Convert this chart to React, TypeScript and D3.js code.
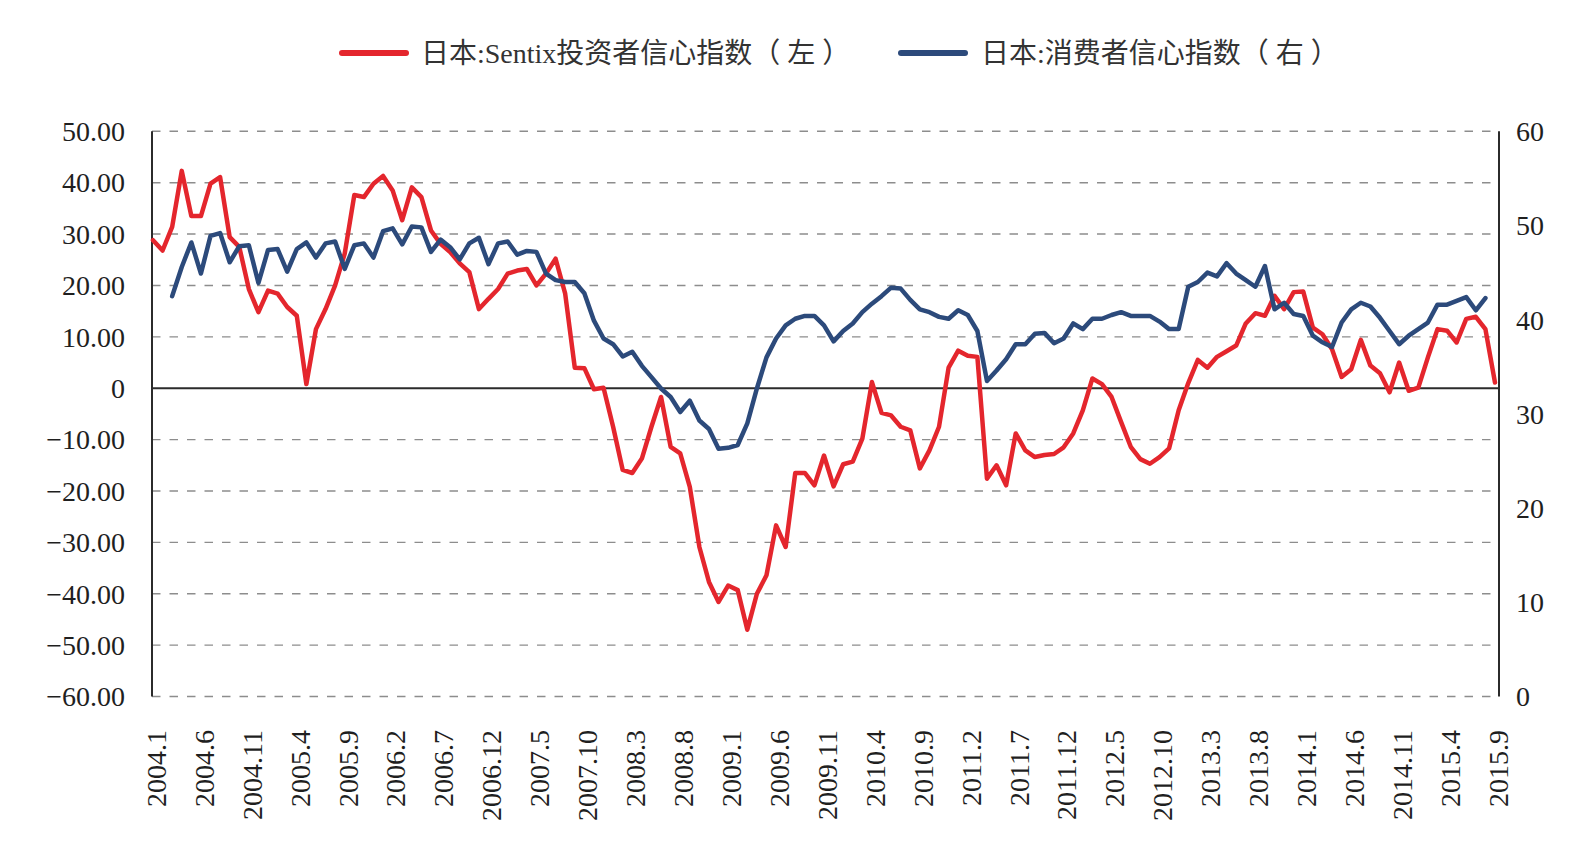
import React from "react";
import * as d3 from "d3";

// Monthly categories 2004.1 – 2015.9
const startYear = 2004;
const endYear = 2015;
const endMonth = 9;
const months: string[] = [];
for (let y = startYear; y <= endYear; y++) {
  for (let m = 1; m <= 12; m++) {
    if (y === endYear && m > endMonth) break;
    months.push(`${y}.${m}`);
  }
}

const tickLabels = [
  "2004.1", "2004.6", "2004.11", "2005.4", "2005.9", "2006.2", "2006.7", "2006.12",
  "2007.5", "2007.10", "2008.3", "2008.8", "2009.1", "2009.6", "2009.11", "2010.4",
  "2010.9", "2011.2", "2011.7", "2011.12", "2012.5", "2012.10", "2013.3", "2013.8",
  "2014.1", "2014.6", "2014.11", "2015.4", "2015.9",
];

// 日本:Sentix投资者信心指数 (left axis), from 2004.1
const sentixStart = "2004.1";
const sentix = [
  28.8, 26.8, 31.4, 42.3, 33.5, 33.5, 39.8, 41.1, 29.4, 27.5,
  19.3, 14.8, 19.0, 18.4, 15.8, 14.1, 0.8, 11.5, 15.4, 20.0,
  26.2, 37.6, 37.2, 39.8, 41.3, 38.5, 32.7, 39.1, 37.2, 30.7,
  28.1, 26.5, 24.3, 22.6, 15.4, 17.4, 19.3, 22.3, 22.9, 23.2,
  20.0, 22.3, 25.2, 18.4, 4.0, 3.9, -0.2, 0.1, -7.5, -15.9,
  -16.5, -13.7, -7.5, -1.7, -11.4, -12.7, -19.2, -30.9, -37.7, -41.6,
  -38.4, -39.3, -47.0, -40.0, -36.4, -26.7, -30.9, -16.5, -16.5, -18.9,
  -13.1, -19.1, -14.8, -14.3, -9.8, 1.2, -4.8, -5.3, -7.5, -8.2,
  -15.6, -12.1, -7.5, 4.0, 7.3, 6.3, 6.1, -17.6, -15.0, -18.9,
  -8.8, -12.1, -13.4, -13.0, -12.8, -11.5, -8.8, -4.3, 1.9, 0.8,
  -1.7, -6.6, -11.4, -13.8, -14.7, -13.4, -11.7, -4.3, 1.0, 5.5,
  4.0, 6.1, 7.2, 8.3, 12.6, 14.6, 14.1, 18.0, 15.4, 18.7,
  18.8, 11.8, 10.5, 7.6, 2.2, 3.7, 9.4, 4.4, 2.9, -0.8,
  5.0, -0.5, 0.1, 6.0, 11.5, 11.2, 8.9, 13.5, 13.9, 11.5,
  1.1,
];

// 日本:消费者信心指数 (right axis), from 2004.3
const consumerStart = "2004.3";
const consumer = [
  42.5, 45.6, 48.2, 44.9, 48.9, 49.2, 46.1, 47.8, 47.9, 43.9,
  47.4, 47.5, 45.1, 47.5, 48.2, 46.6, 48.1, 48.3, 45.4, 47.9,
  48.1, 46.6, 49.4, 49.7, 48.0, 49.9, 49.8, 47.2, 48.5, 47.7,
  46.4, 48.1, 48.7, 45.9, 48.1, 48.3, 46.9, 47.3, 47.2, 44.9,
  44.2, 44.0, 44.0, 42.8, 39.9, 38.0, 37.4, 36.1, 36.6, 35.1,
  33.9, 32.7, 31.8, 30.2, 31.4, 29.3, 28.4, 26.3, 26.4, 26.7,
  29.0, 32.7, 36.0, 38.0, 39.4, 40.1, 40.4, 40.4, 39.4, 37.7,
  38.8, 39.6, 40.8, 41.7, 42.5, 43.4, 43.3, 42.1, 41.1, 40.8,
  40.3, 40.1, 41.0, 40.5, 38.8, 33.5, 34.6, 35.8, 37.4, 37.4,
  38.5, 38.6, 37.5, 38.0, 39.6, 39.0, 40.1, 40.1, 40.5, 40.8,
  40.4, 40.4, 40.4, 39.8, 39.0, 39.0, 43.5, 44.0, 45.0, 44.6,
  46.0, 44.9, 44.2, 43.5, 45.7, 41.1, 41.8, 40.6, 40.4, 38.3,
  37.6, 37.1, 39.7, 41.1, 41.8, 41.4, 40.2, 38.8, 37.4, 38.3,
  39.0, 39.7, 41.6, 41.6, 42.0, 42.4, 41.0, 42.3,
];

const leftTicks = [50, 40, 30, 20, 10, 0, -10, -20, -30, -40, -50, -60];
const rightTicks = [60, 50, 40, 30, 20, 10, 0];

const seriesNames = ["日本:Sentix投资者信心指数（ 左 ）", "日本:消费者信心指数（ 右 ）"];
const RED = "#e4262d";
const BLUE = "#2c4a7b";
const FONT = "'Liberation Serif', 'Times New Roman', 'Noto Sans CJK SC', serif";
const LEGEND_FONT = "'Liberation Serif', 'Noto Sans CJK SC', serif";

export default function App() {
  const W = 1586;
  const H = 847;
  const x = d3.scaleLinear().domain([0, months.length - 1]).range([153, 1495]);
  const yL = d3.scaleLinear().domain([-60, 50]).range([696.5, 131.3]);
  const yR = d3.scaleLinear().domain([0, 60]).range([696.5, 131.3]);
  const axisL = 152;
  const axisR = 1499;

  const sOff = months.indexOf(sentixStart);
  const cOff = months.indexOf(consumerStart);

  const redPath = d3
    .line<number>()
    .x((_, i) => x(i + sOff))
    .y((d) => yL(d))(sentix) as string;
  const bluePath = d3
    .line<number>()
    .x((_, i) => x(i + cOff))
    .y((d) => yR(d))(consumer) as string;

  const fmtL = (v: number) => (v === 0 ? "0" : (v < 0 ? "\u2212" : "") + Math.abs(v).toFixed(2));

  return (
    <svg
      width={W}
      height={H}
      style={{ position: "absolute", left: 0, top: 0, display: "block", background: "#fff" }}
    >
      <rect x={0} y={0} width={W} height={H} fill="#fff" />

      {/* gridlines */}
      {leftTicks
        .filter((t) => t !== 0)
        .map((t) => (
          <line
            key={"g" + t}
            x1={axisL}
            x2={x(months.length - 1)}
            y1={yL(t)}
            y2={yL(t)}
            stroke="#8d8d8d"
            strokeWidth={1.4}
            strokeDasharray="8.5,9"
          />
        ))}
      {/* zero line */}
      <line x1={axisL} x2={axisR} y1={yL(0)} y2={yL(0)} stroke="#2b2b2b" strokeWidth={2} />
      {/* axes */}
      <line x1={axisL} x2={axisL} y1={yL(50)} y2={yL(-60)} stroke="#2b2b2b" strokeWidth={2} />
      <line x1={axisR} x2={axisR} y1={yR(60)} y2={yR(0)} stroke="#2b2b2b" strokeWidth={2} />

      {/* left tick labels */}
      {leftTicks.map((t) => (
        <text
          key={"l" + t}
          x={125}
          y={yL(t)}
          dy="0.35em"
          textAnchor="end"
          fontFamily={FONT}
          fontSize={28}
          fill="#1f1f1f"
        >
          {fmtL(t)}
        </text>
      ))}
      {/* right tick labels */}
      {rightTicks.map((t) => (
        <text
          key={"r" + t}
          x={1516}
          y={yR(t)}
          dy="0.35em"
          textAnchor="start"
          fontFamily={FONT}
          fontSize={28}
          fill="#1f1f1f"
        >
          {t}
        </text>
      ))}
      {/* x tick labels */}
      {tickLabels.map((lab) => {
        const xi = x(months.indexOf(lab)) + 3;
        return (
          <text
            key={"x" + lab}
            transform={`translate(${xi},730) rotate(-90)`}
            dy="0.35em"
            textAnchor="end"
            fontFamily={FONT}
            fontSize={28}
            fill="#1f1f1f"
          >
            {lab}
          </text>
        );
      })}

      {/* series */}
      <path d={redPath} fill="none" stroke={RED} strokeWidth={4.5} strokeLinejoin="round" strokeLinecap="round" />
      <path d={bluePath} fill="none" stroke={BLUE} strokeWidth={4.5} strokeLinejoin="round" strokeLinecap="round" />

      {/* legend */}
      <line x1={342} x2={406} y1={53} y2={53} stroke={RED} strokeWidth={6} strokeLinecap="round" />
      <text x={421} y={53} dy="0.35em" fontFamily={LEGEND_FONT} fontSize={28} fill="#333">
        {seriesNames[0]}
      </text>
      <line x1={901} x2={965} y1={53} y2={53} stroke={BLUE} strokeWidth={6} strokeLinecap="round" />
      <text x={981} y={53} dy="0.35em" fontFamily={LEGEND_FONT} fontSize={28} fill="#333">
        {seriesNames[1]}
      </text>
    </svg>
  );
}
